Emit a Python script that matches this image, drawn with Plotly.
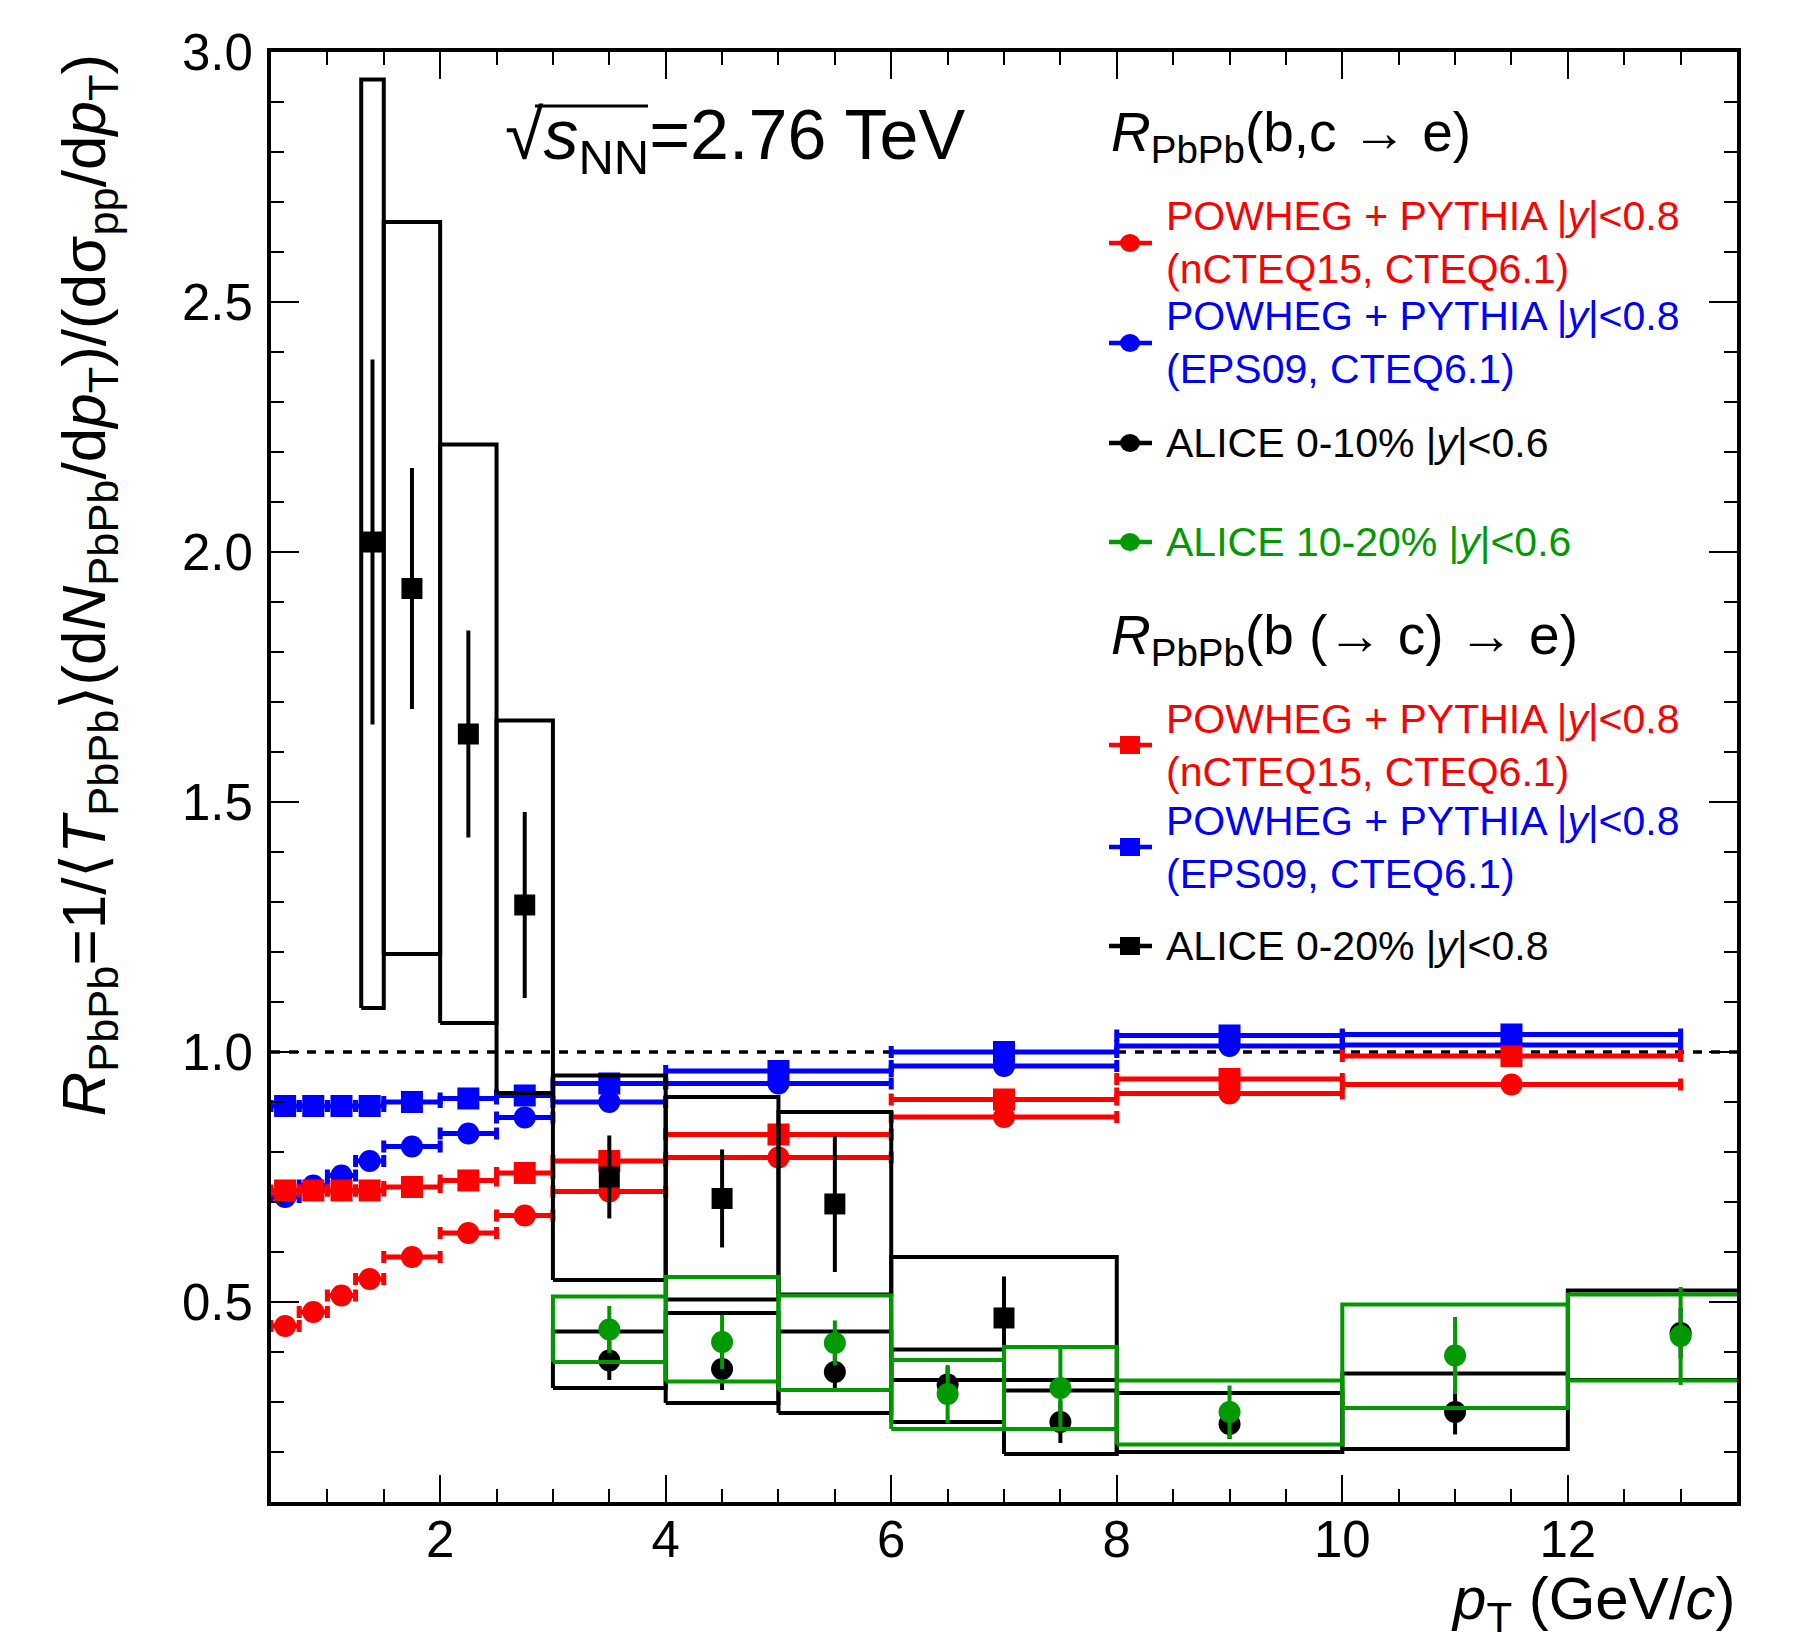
import plotly.graph_objects as go

# ---------------- data ----------------
# POWHEG + PYTHIA predictions: pT bin centres and half-widths (GeV/c)
theory_pt = [0.625, 0.875, 1.125, 1.375, 1.75, 2.25, 2.75, 3.5, 5.0, 7.0, 9.0, 11.5]
theory_pt_halfwidth = [0.125, 0.125, 0.125, 0.125, 0.25, 0.25, 0.25, 0.5, 1.0, 1.0, 1.0, 1.5]
raa_bc_ncteq15 = [0.452, 0.480, 0.513, 0.546, 0.590, 0.638, 0.673, 0.721, 0.789, 0.870, 0.917, 0.935]
raa_bc_eps09 = [0.710, 0.733, 0.753, 0.782, 0.811, 0.837, 0.869, 0.900, 0.937, 0.972, 1.012, 1.014]
raa_b_ncteq15 = [0.723, 0.723, 0.723, 0.723, 0.730, 0.743, 0.758, 0.782, 0.835, 0.905, 0.946, 0.992]
raa_b_eps09 = [0.892, 0.892, 0.892, 0.892, 0.900, 0.907, 0.913, 0.937, 0.962, 1.000, 1.033, 1.035]

# ALICE b (-> c) -> e, 0-20%, |y|<0.8
alice_b_pt = [1.4, 1.75, 2.25, 2.75, 3.5, 4.5, 5.5, 7.0]
alice_b_pt_lo = [1.3, 1.5, 2.0, 2.5, 3.0, 4.0, 5.0, 6.0]
alice_b_pt_hi = [1.5, 2.0, 2.5, 3.0, 4.0, 5.0, 6.0, 8.0]
alice_b_raa = [2.020, 1.927, 1.636, 1.294, 0.750, 0.707, 0.696, 0.468]
alice_b_stat = [0.365, 0.241, 0.207, 0.186, 0.083, 0.098, 0.136, 0.083]
alice_b_sys_lo = [1.088, 1.196, 1.058, 0.918, 0.544, 0.505, 0.515, 0.344]
alice_b_sys_hi = [2.945, 2.660, 2.215, 1.663, 0.953, 0.910, 0.880, 0.590]

# ALICE b,c -> e, |y|<0.6
alice_bc_pt = [3.5, 4.5, 5.5, 6.5, 7.5, 9.0, 11.0, 13.0]
alice_bc_pt_lo = [3.0, 4.0, 5.0, 6.0, 7.0, 8.0, 10.0, 12.0]
alice_bc_pt_hi = [4.0, 5.0, 6.0, 7.0, 8.0, 10.0, 12.0, 14.0]
# 0-10%
alice_010_raa = [0.383, 0.366, 0.360, 0.335, 0.260, 0.256, 0.280, 0.438]
alice_010_stat = [0.039, 0.042, 0.040, 0.035, 0.042, 0.030, 0.045, 0.050]
alice_010_sys_lo = [0.328, 0.298, 0.278, 0.260, 0.196, 0.200, 0.206, 0.344]
alice_010_sys_hi = [0.441, 0.478, 0.441, 0.405, 0.323, 0.318, 0.357, 0.523]
# 10-20%
alice_1020_raa = [0.445, 0.420, 0.418, 0.316, 0.328, 0.280, 0.393, 0.432]
alice_1020_stat = [0.047, 0.054, 0.045, 0.058, 0.078, 0.053, 0.077, 0.098]
alice_1020_sys_lo = [0.380, 0.341, 0.324, 0.246, 0.246, 0.215, 0.288, 0.343]
alice_1020_sys_hi = [0.511, 0.550, 0.513, 0.384, 0.410, 0.343, 0.495, 0.515]

# ---------------- style / layout geometry ----------------
FONT = "Liberation Sans"
RED, BLUE, GREEN, BLACK = "#ff0000", "#0000ff", "#009900", "#000000"
PAGE_OFF = 8                      # default HTML body margin
W, H = 1812 - PAGE_OFF, 1644 - PAGE_OFF
# plot area in page pixels
PL, PR, PT, PB = 271, 1737, 52, 1502
PW, PH = PR - PL, PB - PT
ML, MT = PL - PAGE_OFF, PT - PAGE_OFF
MR, MB = W - (PR - PAGE_OFF), H - (PB - PAGE_OFF)


def px_x(X):
    return (X - PL) / PW


def px_y(Y):
    return (PB - Y) / PH


def box_trace(lo, hi, ylo, yhi, color):
    xs, ys = [], []
    for a, b, c, d in zip(lo, hi, ylo, yhi):
        xs += [a, b, b, a, a, None]
        ys += [c, c, d, d, c, None]
    return go.Scatter(x=xs, y=ys, mode="lines", line=dict(color=color, width=4),
                      hoverinfo="skip", showlegend=False)


MS = 22
fig = go.Figure()

# theory curves
for vals, color, sym in [(raa_bc_ncteq15, RED, "circle"), (raa_bc_eps09, BLUE, "circle"),
                         (raa_b_ncteq15, RED, "square"), (raa_b_eps09, BLUE, "square")]:
    fig.add_trace(go.Scatter(
        x=theory_pt, y=vals, mode="markers",
        marker=dict(symbol=sym, size=MS, color=color),
        error_x=dict(type="data", array=theory_pt_halfwidth, color=color, thickness=5, width=6),
        showlegend=False))

# ALICE 0-20% b->e
fig.add_trace(box_trace(alice_b_pt_lo, alice_b_pt_hi, alice_b_sys_lo, alice_b_sys_hi, BLACK))
fig.add_trace(go.Scatter(
    x=alice_b_pt, y=alice_b_raa, mode="markers",
    marker=dict(symbol="square", size=MS - 1, color=BLACK),
    error_y=dict(type="data", array=alice_b_stat, color=BLACK, thickness=4, width=0),
    showlegend=False))

# ALICE 0-10% b,c->e
fig.add_trace(box_trace(alice_bc_pt_lo, alice_bc_pt_hi, alice_010_sys_lo, alice_010_sys_hi, BLACK))
fig.add_trace(go.Scatter(
    x=alice_bc_pt, y=alice_010_raa, mode="markers",
    marker=dict(symbol="circle", size=MS, color=BLACK),
    error_y=dict(type="data", array=alice_010_stat, color=BLACK, thickness=4, width=0),
    showlegend=False))

# ALICE 10-20% b,c->e
fig.add_trace(box_trace(alice_bc_pt_lo, alice_bc_pt_hi, alice_1020_sys_lo, alice_1020_sys_hi, GREEN))
fig.add_trace(go.Scatter(
    x=alice_bc_pt, y=alice_1020_raa, mode="markers",
    marker=dict(symbol="circle", size=MS, color=GREEN),
    error_y=dict(type="data", array=alice_1020_stat, color=GREEN, thickness=4, width=0),
    showlegend=False))

shapes = [dict(type="line", xref="paper", x0=0, x1=1, yref="y", y0=1, y1=1,
               line=dict(color=BLACK, width=3.5, dash="9px,9px"), layer="below")]
annotations = []

# ---------------- legend (manual) ----------------
gx0, gx1, gxc = px_x(1109), px_x(1152), px_x(1130)
tx = px_x(1164)
legend_rows = [
    (243, RED, "circle", "POWHEG + PYTHIA |<i>y</i>|&lt;0.8<br>(nCTEQ15, CTEQ6.1)"),
    (343, BLUE, "circle", "POWHEG + PYTHIA |<i>y</i>|&lt;0.8<br>(EPS09, CTEQ6.1)"),
    (443, BLACK, "circle", "ALICE 0-10% |<i>y</i>|&lt;0.6"),
    (542, GREEN, "circle", "ALICE 10-20% |<i>y</i>|&lt;0.6"),
    (745, RED, "square", "POWHEG + PYTHIA |<i>y</i>|&lt;0.8<br>(nCTEQ15, CTEQ6.1)"),
    (847, BLUE, "square", "POWHEG + PYTHIA |<i>y</i>|&lt;0.8<br>(EPS09, CTEQ6.1)"),
    (946, BLACK, "square", "ALICE 0-20% |<i>y</i>|&lt;0.8"),
]
for Y, color, sym, text in legend_rows:
    yp = px_y(Y)
    shapes.append(dict(type="line", xref="paper", yref="paper", x0=gx0, x1=gx1, y0=yp, y1=yp,
                       line=dict(color=color, width=4.5)))
    shapes.append(dict(type="circle" if sym == "circle" else "rect", xref="paper", yref="paper",
                       xsizemode="pixel", ysizemode="pixel", xanchor=gxc, yanchor=yp,
                       x0=-10, x1=10, y0=-9, y1=9, fillcolor=color, line=dict(width=0)))
    annotations.append(dict(x=tx, y=yp, xref="paper", yref="paper", xanchor="left", yanchor="middle",
                            text=text, showarrow=False, align="left",
                            font=dict(family=FONT, size=41, color=color)))

for Y, text in [(136, "<i>R</i><sub>PbPb</sub>(b,c \u2192 e)"),
                (639, "<i>R</i><sub>PbPb</sub>(b (\u2192 c) \u2192 e)")]:
    annotations.append(dict(x=px_x(1109), y=px_y(Y), xref="paper", yref="paper", xanchor="left",
                            yanchor="middle", text=text, showarrow=False,
                            font=dict(family=FONT, size=55, color=BLACK)))

# energy label (radical bar drawn as a line)
annotations.append(dict(x=px_x(503), y=px_y(140), xref="paper", yref="paper", xanchor="left",
                        yanchor="middle", showarrow=False,
                        text="\u221a<i>s</i><sub>NN</sub>=2.76 TeV",
                        font=dict(family=FONT, size=70, color=BLACK)))
shapes.append(dict(type="line", xref="paper", yref="paper", x0=px_x(535), x1=px_x(648),
                   y0=px_y(106), y1=px_y(106), line=dict(color=BLACK, width=3)))

# axis titles
annotations.append(dict(x=px_x(87), y=1.0, xref="paper", yref="paper", xanchor="center", yanchor="top",
                        textangle=-90, showarrow=False,
                        text=("<i>R</i><sub>PbPb</sub>=1/\u27e8<i>T</i><sub>PbPb</sub>\u27e9"
                              "(d<i>N</i><sub>PbPb</sub>/d<i>p</i><sub>T</sub>)/"
                              "(d\u03c3<sub>pp</sub>/d<i>p</i><sub>T</sub>)"),
                        font=dict(family=FONT, size=62, color=BLACK)))
annotations.append(dict(x=px_x(1737), y=px_y(1603), xref="paper", yref="paper", xanchor="right",
                        yanchor="middle", showarrow=False,
                        text="<i>p</i><sub>T</sub> (GeV/<i>c</i>)",
                        font=dict(family=FONT, size=60, color=BLACK)))

axis_common = dict(showline=True, linecolor=BLACK, linewidth=4, mirror="allticks",
                   ticks="inside", tickcolor=BLACK, tickwidth=2, showgrid=False, zeroline=False,
                   tickfont=dict(family=FONT, size=51, color=BLACK))

fig.update_layout(
    width=W, height=H,
    margin=dict(l=ML, r=MR, t=MT, b=MB, pad=0),
    paper_bgcolor="white", plot_bgcolor="white",
    showlegend=False,
    xaxis=dict(range=[0.5, 13.5], tick0=0, dtick=2, ticklen=27, ticklabelstandoff=-10,
               minor=dict(dtick=0.5, tick0=0, ticks="inside", ticklen=13, tickwidth=2, tickcolor=BLACK),
               **axis_common),
    yaxis=dict(range=[0.0999, 3.0001], tick0=0, dtick=0.5, tickformat=".1f", ticklen=28,
               ticklabelstandoff=4,
               minor=dict(dtick=0.1, tick0=0, ticks="inside", ticklen=13, tickwidth=2, tickcolor=BLACK),
               **axis_common),
    shapes=shapes,
    annotations=annotations,
)

fig.write_html("out.html")
